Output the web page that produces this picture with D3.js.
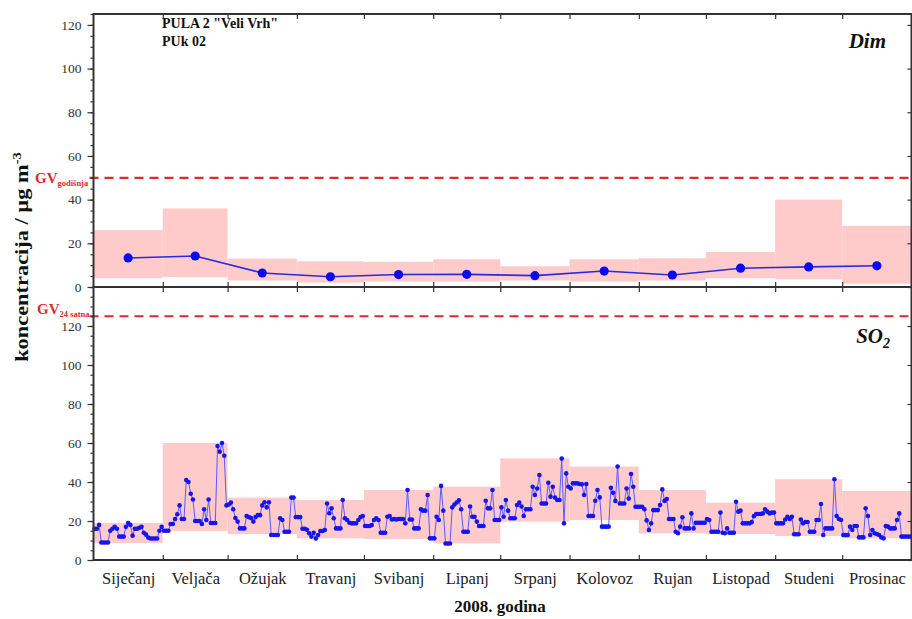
<!DOCTYPE html>
<html>
<head>
<meta charset="utf-8">
<script src="https://cdn.jsdelivr.net/npm/d3@7"></script>
<style>
  html, body { margin: 0; padding: 0; background: #fff; }
  svg { display: block; }
  text { font-family: "Liberation Serif", "Times New Roman", serif; }
</style>
</head>
<body>
<script>
// ---------- DATA ----------
const months = ["Siječanj","Veljača","Ožujak","Travanj","Svibanj","Lipanj","Srpanj","Kolovoz","Rujan","Listopad","Studeni","Prosinac"];
const yTickValues = [0, 20, 40, 60, 80, 100, 120];

// Dim (smoke) – monthly mean and min–max range
const dimMean = [13.3, 14.2, 6.4, 4.7, 5.7, 5.8, 5.2, 7.3, 5.5, 8.6, 9.2, 9.7];
const dimMin  = [4, 4.5, 3, 2, 2.5, 2.5, 3, 2.5, 3, 4, 3.5, 1.5];
const dimMax  = [26, 36, 13, 11.8, 11.5, 12.7, 9.5, 12.7, 13.2, 16, 40, 28];

// SO2 – monthly min–max range
const so2Min = [8.7, 14.9, 13.3, 11.1, 10.8, 8.5, 19.7, 20.5, 13.7, 13.3, 12.3, 11.1];
const so2Max = [19, 60, 32, 30.8, 35.9, 37.6, 52.1, 47.9, 35.9, 29.4, 41.4, 35.4];

// SO2 – daily values per month
const so2Jan = [16,16,18,9,9,9,9,15,16,17,16,12,12,12,17,19,18,12.5,16,16,16.5,17,14,13,11.5,11,11,11,11,15,17];
const so2Feb = [15,15,15,18.5,18.5,21,23.5,28,21,21,41,40,34,31,20,20,20,18.5,26,20.5,31,19,19,19,58.5,55.5,60,53.5,28];
const so2Mar = [28.5,29.5,26,21.5,19.7,16.2,16.2,16.2,22.6,22,21.5,19.7,22,23,23,28,29.6,27,29.6,12.8,12.8,12.8,12.8,21.4,20.5,14.5,14.5,14.5,32,32,22];
const so2Apr = [22,22,16,16,15.5,13.7,12,14,11,12.8,14.9,14.9,15.4,29,24,26.5,21.4,16.2,16.2,16.2,30.8,21.4,20.5,19.1,18.8,18.8,18.8,20.5,22,22.6];
const so2May = [17.4,17.4,17.4,17.9,20.5,21.4,20.5,14,14,14,22.2,22.6,20.8,21,20.8,21,21,21,18.8,35.9,20.8,20.8,16.2,16.2,16.2,26,25.3,25.3,33.3,11.1,11.1];
const so2Jun = [11.1,22.2,20.5,38,25.3,8.5,8.5,8.5,27,28.5,29.5,30.6,26,14.5,14.5,14.5,27.4,22.2,22.2,19.7,17.4,17.4,17.4,30.4,26.5,26.5,35.9,20.5,20.5,20.5];
const so2Jul = [27,22.2,30.8,25.3,21.4,21.4,21.4,28.2,29.4,27.4,22.6,26,26,26,37.6,33.3,36.7,43.6,29,29,29,39.6,32.5,37.6,32,30.8,30.8,52,18.8,44.4,37.6];
const so2Aug = [36.7,39.3,39.3,39.3,39,38.8,33.3,39,22.6,22.6,22.6,30.4,35.9,32.1,17.1,17.1,17.1,17.1,37,34.5,30.3,47.9,29,29,29,36.7,31.5,44.1,37.6,27.3,27.3];
const so2Sep = [27.3,27.3,26,20.3,15.4,18.8,25.6,25.6,25.6,28.2,36.2,30.3,31.3,21,21,21,14.5,13.7,17.1,21.9,16.2,16.2,16.2,23.9,16.2,19.1,19.1,19.1,19.1,19.1];
const so2Oct = [21,20.5,14.5,14.5,14.5,14.5,24.3,14,13.7,16.2,14,14,14,29.9,24.8,25.3,18.8,18.8,18.8,18.8,19.4,22.5,23.6,23.6,23.6,23.9,26,24.8,23.9,24.3,24.3];
const so2Nov = [18.8,18.8,18.8,18.8,20.8,22.2,21,22.2,13.2,13.2,13.2,20.8,18.8,19.5,19.5,14.5,14.5,14.5,20.5,20.5,28.7,12.8,16.2,16.2,16.2,16.2,41.4,22.6,21,20.5];
const so2Dec = [12.8,12.8,12.8,17.1,15.4,17.4,17.4,11.6,11.6,11.6,26.5,22.6,12.8,15.4,13.7,13.3,12.8,11.6,11.1,17.4,17.1,16.2,16.2,16.2,20.5,23.9,12,12,12,12,12];

const gvDim = 50;   // GV godišnja
const gvSO2 = 125;  // GV 24 satna

// ---------- LAYOUT ----------
const W = 912, H = 619;
const X0 = 93.5, X1 = 911.5;
const TOP_Y0 = 14, MID_Y = 287, BOT_Y1 = 560;

const svg = d3.select("body").append("svg").attr("width", W).attr("height", H);

const x = d3.scaleTime().domain([new Date(2008, 0, 1), new Date(2009, 0, 1)]).range([X0, X1]);
const yTop = d3.scaleLinear().domain([0, 125]).range([MID_Y, TOP_Y0]);
const yBot = d3.scaleLinear().domain([0, 140]).range([BOT_Y1, MID_Y]);

const monthStart = i => new Date(2008, i, 1);
const monthMid = i => new Date((monthStart(i).getTime() + monthStart(i + 1).getTime()) / 2);

const BAND = "#ffcaca";
const RED = "#dd2a2a";

// ---------- BANDS ----------
const gBands = svg.append("g");
months.forEach((m, i) => {
  gBands.append("rect")
    .attr("x", x(monthStart(i))).attr("width", x(monthStart(i + 1)) - x(monthStart(i)))
    .attr("y", yTop(dimMax[i])).attr("height", yTop(dimMin[i]) - yTop(dimMax[i]))
    .attr("fill", BAND);
  gBands.append("rect")
    .attr("x", x(monthStart(i))).attr("width", x(monthStart(i + 1)) - x(monthStart(i)))
    .attr("y", yBot(so2Max[i])).attr("height", yBot(so2Min[i]) - yBot(so2Max[i]))
    .attr("fill", BAND);
});

// ---------- GV lines ----------
svg.append("line").attr("x1", X0 - 4).attr("x2", X1).attr("y1", yTop(gvDim)).attr("y2", yTop(gvDim))
  .attr("stroke", RED).attr("stroke-width", 2.2).attr("stroke-dasharray", "9,6");
svg.append("line").attr("x1", X0 - 4).attr("x2", X1).attr("y1", yBot(gvSO2)).attr("y2", yBot(gvSO2))
  .attr("stroke", RED).attr("stroke-width", 2.2).attr("stroke-dasharray", "9,6");

// ---------- Dim series ----------
const dimData = dimMean.map((v, i) => ({ d: monthMid(i), v }));
svg.append("path").datum(dimData)
  .attr("fill", "none").attr("stroke", "#2a2ae0").attr("stroke-width", 1.6)
  .attr("d", d3.line().x(d => x(d.d)).y(d => yTop(d.v)));
svg.append("g").selectAll("circle").data(dimData).join("circle")
  .attr("cx", d => x(d.d)).attr("cy", d => yTop(d.v)).attr("r", 4.6).attr("fill", "#0a0aee");

// ---------- SO2 series ----------
const so2Months = [so2Jan, so2Feb, so2Mar, so2Apr, so2May, so2Jun, so2Jul, so2Aug, so2Sep, so2Oct, so2Nov, so2Dec];
const so2Data = [];
so2Months.forEach((arr, mi) => arr.forEach((v, di) => so2Data.push({ d: new Date(2008, mi, di + 1, 12), v })));
svg.append("path").datum(so2Data)
  .attr("fill", "none").attr("stroke", "#5a5aff").attr("stroke-width", 1)
  .attr("d", d3.line().x(d => x(d.d)).y(d => yBot(d.v)));
svg.append("g").selectAll("circle").data(so2Data).join("circle")
  .attr("cx", d => x(d.d)).attr("cy", d => yBot(d.v)).attr("r", 2.3).attr("fill", "#1515ee");

// ---------- AXES ----------
function styleAxis(g) {
  g.select(".domain").remove();
  g.selectAll("line").attr("stroke", "#333").attr("stroke-width", 1.2);
  g.selectAll("text").attr("fill", "#333").style("font-size", "13.5px")
    .style("font-family", "'Liberation Serif','Times New Roman',serif");
}
[[yTop, 125], [yBot, 140]].forEach(([ys, max]) => {
  svg.append("g").attr("transform", `translate(${X0},0)`)
    .call(d3.axisLeft(ys).tickValues(d3.range(0, max + 0.1, 5)).tickSize(3).tickFormat(""))
    .call(styleAxis);
  svg.append("g").attr("transform", `translate(${X0},0)`)
    .call(d3.axisLeft(ys).tickValues(yTickValues).tickSize(6).tickPadding(6).tickFormat(d3.format("d")))
    .call(styleAxis);
  svg.append("g").attr("transform", `translate(${X1},0)`)
    .call(d3.axisLeft(ys).tickValues(yTickValues).tickSize(4).tickFormat(""))
    .call(styleAxis);
});

const monthBounds = d3.range(1, 12).map(monthStart);
svg.append("g").attr("transform", `translate(0,${TOP_Y0})`)
  .call(d3.axisBottom(x).tickValues(monthBounds).tickSize(5).tickFormat("")).call(styleAxis);
svg.append("g").attr("transform", `translate(0,${MID_Y})`)
  .call(d3.axisBottom(x).tickValues(monthBounds).tickSize(5).tickFormat("")).call(styleAxis);
svg.append("g").attr("transform", `translate(0,${MID_Y})`)
  .call(d3.axisTop(x).tickValues(monthBounds).tickSize(5).tickFormat("")).call(styleAxis);
svg.append("g").attr("transform", `translate(0,${BOT_Y1})`)
  .call(d3.axisTop(x).tickValues(monthBounds).tickSize(5).tickFormat("")).call(styleAxis);

// month labels
svg.append("g").attr("transform", `translate(0,${BOT_Y1})`)
  .call(d3.axisBottom(x).tickValues(d3.range(12).map(monthMid)).tickSize(0).tickPadding(12)
    .tickFormat((d, i) => months[i]))
  .call(g => { g.select(".domain").remove();
    g.selectAll("text").attr("fill", "#222").style("font-size", "16.5px")
      .style("font-family", "'Liberation Serif','Times New Roman',serif"); });

// frames
const frame = svg.append("g").attr("fill", "none").attr("stroke", "#333").attr("stroke-width", 2);
frame.append("rect").attr("x", X0).attr("y", TOP_Y0).attr("width", X1 - X0).attr("height", MID_Y - TOP_Y0);
frame.append("rect").attr("x", X0).attr("y", MID_Y).attr("width", X1 - X0).attr("height", BOT_Y1 - MID_Y);

// ---------- TEXTS ----------
svg.append("text").attr("x", 162).attr("y", 28).attr("font-weight", "bold").attr("font-size", 14)
  .attr("fill", "#111").text('PULA 2 "Veli Vrh"');
svg.append("text").attr("x", 162).attr("y", 46).attr("font-weight", "bold").attr("font-size", 14)
  .attr("fill", "#111").text("PUk 02");

svg.append("text").attr("x", 886).attr("y", 48).attr("text-anchor", "end")
  .attr("font-weight", "bold").attr("font-style", "italic").attr("font-size", 21).attr("fill", "#111").text("Dim");
const so2t = svg.append("text").attr("x", 890).attr("y", 343).attr("text-anchor", "end")
  .attr("font-weight", "bold").attr("font-style", "italic").attr("font-size", 21).attr("fill", "#111");
so2t.append("tspan").text("SO");
so2t.append("tspan").attr("dy", 5).attr("font-size", 14).text("2");

const gv1 = svg.append("text").attr("x", 35).attr("y", yTop(gvDim) + 5).attr("fill", RED).attr("font-weight", "bold").attr("font-size", 15);
gv1.append("tspan").text("GV");
gv1.append("tspan").attr("dy", 3).attr("font-size", 8.5).text("godišnja");
const gv2 = svg.append("text").attr("x", 37).attr("y", yBot(gvSO2) - 2).attr("fill", RED).attr("font-weight", "bold").attr("font-size", 15);
gv2.append("tspan").text("GV");
gv2.append("tspan").attr("dy", 3).attr("font-size", 8.5).text("24 satna");

const yl = svg.append("text").attr("transform", `translate(28,257) rotate(-90) scale(1.12,0.92)`)
  .attr("text-anchor", "middle").attr("font-weight", "bold").attr("font-size", 20).attr("fill", "#111");
yl.append("tspan").text("koncentracija / µg m");
yl.append("tspan").attr("dy", -8).attr("font-size", 13).text("-3");

svg.append("text").attr("x", 500).attr("y", 612).attr("text-anchor", "middle")
  .attr("font-weight", "bold").attr("font-size", 17).attr("fill", "#111").text("2008. godina");
</script>
</body>
</html>
